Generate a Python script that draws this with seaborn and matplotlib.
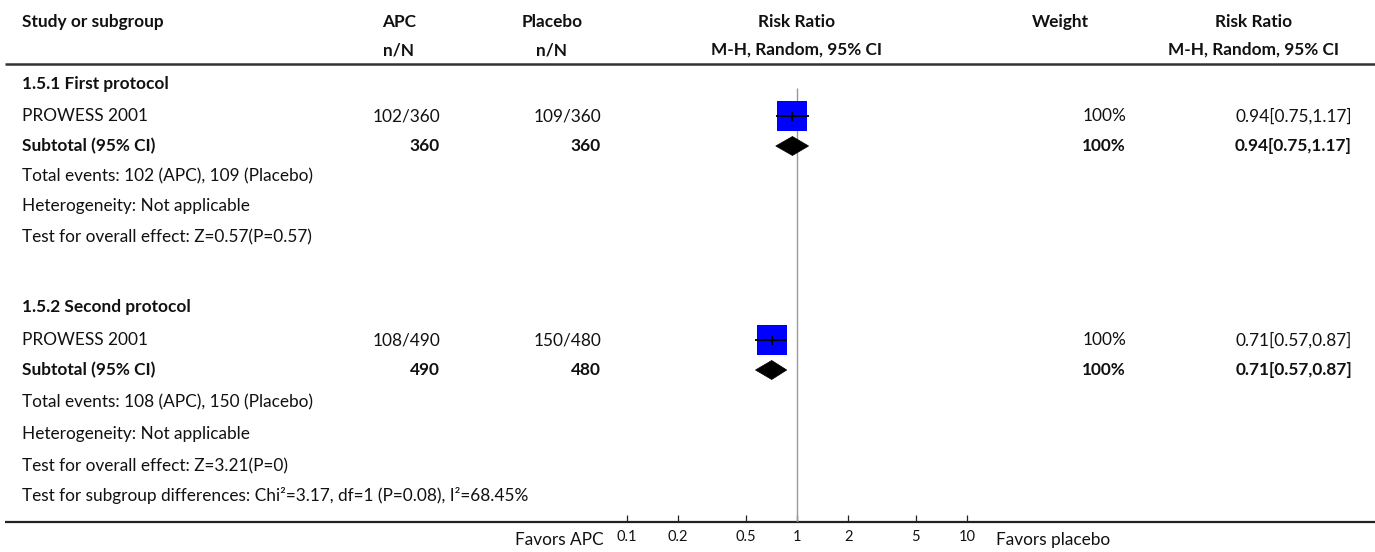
import matplotlib
matplotlib.use("Agg")
import matplotlib.pyplot as plt
import seaborn as sns
import pandas as pd
from matplotlib.patches import Polygon

# ---- data ---------------------------------------------------------------
subgroups = ["1.5.1 First protocol", "1.5.2 Second protocol"]
studies = ["PROWESS 2001", "PROWESS 2001"]
apc_events = [102, 108]
apc_total = [360, 490]
placebo_events = [109, 150]
placebo_total = [360, 480]
risk_ratio = [0.94, 0.71]
ci_low = [0.75, 0.57]
ci_high = [1.17, 0.87]
weight_pct = [100, 100]
heterogeneity = ["Not applicable", "Not applicable"]
overall_z = ["0.57", "3.21"]
overall_p = ["0.57", "0"]
subgroup_test = "Test for subgroup differences: Chi\u00b2=3.17, df=1 (P=0.08), I\u00b2=68.45%"
axis_ticks = [0.1, 0.2, 0.5, 1, 2, 5, 10]
axis_tick_labels = ["0.1", "0.2", "0.5", "1", "2", "5", "10"]
favors_left = "Favors APC"
favors_right = "Favors placebo"

# ---- style --------------------------------------------------------------
sns.set_theme(style="white")
plt.rcParams["font.family"] = ["Lato", "DejaVu Sans"]

W, H = 1375, 552
FS = 12.4
fig = plt.figure(figsize=(W / 100, H / 100), dpi=100)

# table layer in pixel coordinates
tab = fig.add_axes([0, 0, 1, 1])
tab.set_xlim(0, W)
tab.set_ylim(H, 0)
tab.axis("off")

# forest plot layer: log axis, 0.1..10 spans x = 627..967 px, bottom at y = 522
AX_L, AX_R, AX_B = 627, 967, 522
fp = fig.add_axes([AX_L / W, (H - AX_B) / H, (AX_R - AX_L) / W, AX_B / H])
fp.patch.set_alpha(0)

# column anchors (px)
X_STUDY = 22
X_APC_C, X_APC_R = 399, 440
X_PLA_C, X_PLA_R = 552, 601
X_RR_C = 797
X_W_C, X_W_R = 1060, 1126
X_RRV_C, X_RRV_R = 1254, 1352


def txt(x, y, s, ha="left", bold=False, size=FS):
    tab.text(x, y, s, ha=ha, va="center", fontsize=size,
             fontweight="bold" if bold else "normal", color="#111111")


# header
txt(X_STUDY, 22, "Study or subgroup", bold=True)
txt(X_APC_C, 22, "APC", ha="center", bold=True)
txt(X_APC_C, 50, "n/N", ha="center", bold=True)
txt(X_PLA_C, 22, "Placebo", ha="center", bold=True)
txt(X_PLA_C, 50, "n/N", ha="center", bold=True)
txt(X_RR_C, 22, "Risk Ratio", ha="center", bold=True)
txt(X_RR_C, 50, "M-H, Random, 95% CI", ha="center", bold=True)
txt(X_W_C, 22, "Weight", ha="center", bold=True)
txt(X_RRV_C, 22, "Risk Ratio", ha="center", bold=True)
txt(X_RRV_C, 50, "M-H, Random, 95% CI", ha="center", bold=True)
tab.plot([5, W], [64, 64], color="#333333", lw=1.8, solid_capstyle="butt")

# row positions of each subgroup block: header, study, subtotal, events, heterogeneity, test
block_rows = [
    [84, 116, 146, 176, 206, 237],
    [307, 340, 370, 402, 434, 466],
]

study_y = []
for i, rows in enumerate(block_rows):
    yh, ys, yt, ye, yhet, yz = rows
    study_y.append(ys)
    rr_txt = f"{risk_ratio[i]:.2f}[{ci_low[i]:.2f},{ci_high[i]:.2f}]"
    txt(X_STUDY, yh, subgroups[i], bold=True)
    txt(X_STUDY, ys, studies[i])
    txt(X_APC_R, ys, f"{apc_events[i]}/{apc_total[i]}", ha="right")
    txt(X_PLA_R, ys, f"{placebo_events[i]}/{placebo_total[i]}", ha="right")
    txt(X_W_R, ys, f"{weight_pct[i]}%", ha="right")
    txt(X_RRV_R, ys, rr_txt, ha="right")
    txt(X_STUDY, yt, "Subtotal (95% CI)", bold=True)
    txt(X_APC_R, yt, f"{apc_total[i]}", ha="right", bold=True)
    txt(X_PLA_R, yt, f"{placebo_total[i]}", ha="right", bold=True)
    txt(X_W_R, yt, f"{weight_pct[i]}%", ha="right", bold=True)
    txt(X_RRV_R, yt, rr_txt, ha="right", bold=True)
    txt(X_STUDY, ye, f"Total events: {apc_events[i]} (APC), {placebo_events[i]} (Placebo)")
    txt(X_STUDY, yhet, f"Heterogeneity: {heterogeneity[i]}")
    txt(X_STUDY, yz, f"Test for overall effect: Z={overall_z[i]}(P={overall_p[i]})")

    # pooled estimate diamond
    fp.add_patch(Polygon([(ci_low[i], yt), (risk_ratio[i], yt - 9.5),
                          (ci_high[i], yt), (risk_ratio[i], yt + 9.5)],
                         closed=True, facecolor="black", edgecolor="black",
                         lw=0.5, zorder=4))

txt(X_STUDY, 496, subgroup_test)

# bottom rule of the table doubles as the forest axis line
tab.plot([5, W], [AX_B, AX_B], color="#222222", lw=1.6, solid_capstyle="butt")

# null line
fp.vlines(1, 88, AX_B, color="#999999", lw=1.0, zorder=1)

# study estimates: weighted squares with CI whiskers
df = pd.DataFrame({"rr": risk_ratio, "y": study_y, "w": weight_pct})
sns.scatterplot(data=df, x="rr", y="y", marker="s", s=498, color="#0000ff",
                linewidth=0, legend=False, ax=fp, zorder=2)
fp.hlines(study_y, ci_low, ci_high, color="black", lw=1.3, zorder=3)
fp.vlines(risk_ratio, [y - 4.5 for y in study_y], [y + 4.5 for y in study_y],
          color="black", lw=1.3, zorder=3)

fp.set_xscale("log")
fp.set_xlim(0.1, 10)
fp.set_ylim(AX_B, 0)
fp.set_xlabel("")
fp.set_ylabel("")
for sp in fp.spines.values():
    sp.set_visible(False)
fp.set_xticks(axis_ticks)
fp.set_xticklabels(axis_tick_labels)
fp.minorticks_off()
fp.set_yticks([])
fp.tick_params(axis="x", direction="in", length=5, width=0.9, color="#222222",
               labelsize=10.5, pad=6, labelcolor="#111111", bottom=True)
for lab in fp.get_xticklabels():
    lab.set_clip_on(False)

txt(604, 540, favors_left, ha="right")
txt(996, 540, favors_right, ha="left")

fig.savefig("out.png", dpi=100)
